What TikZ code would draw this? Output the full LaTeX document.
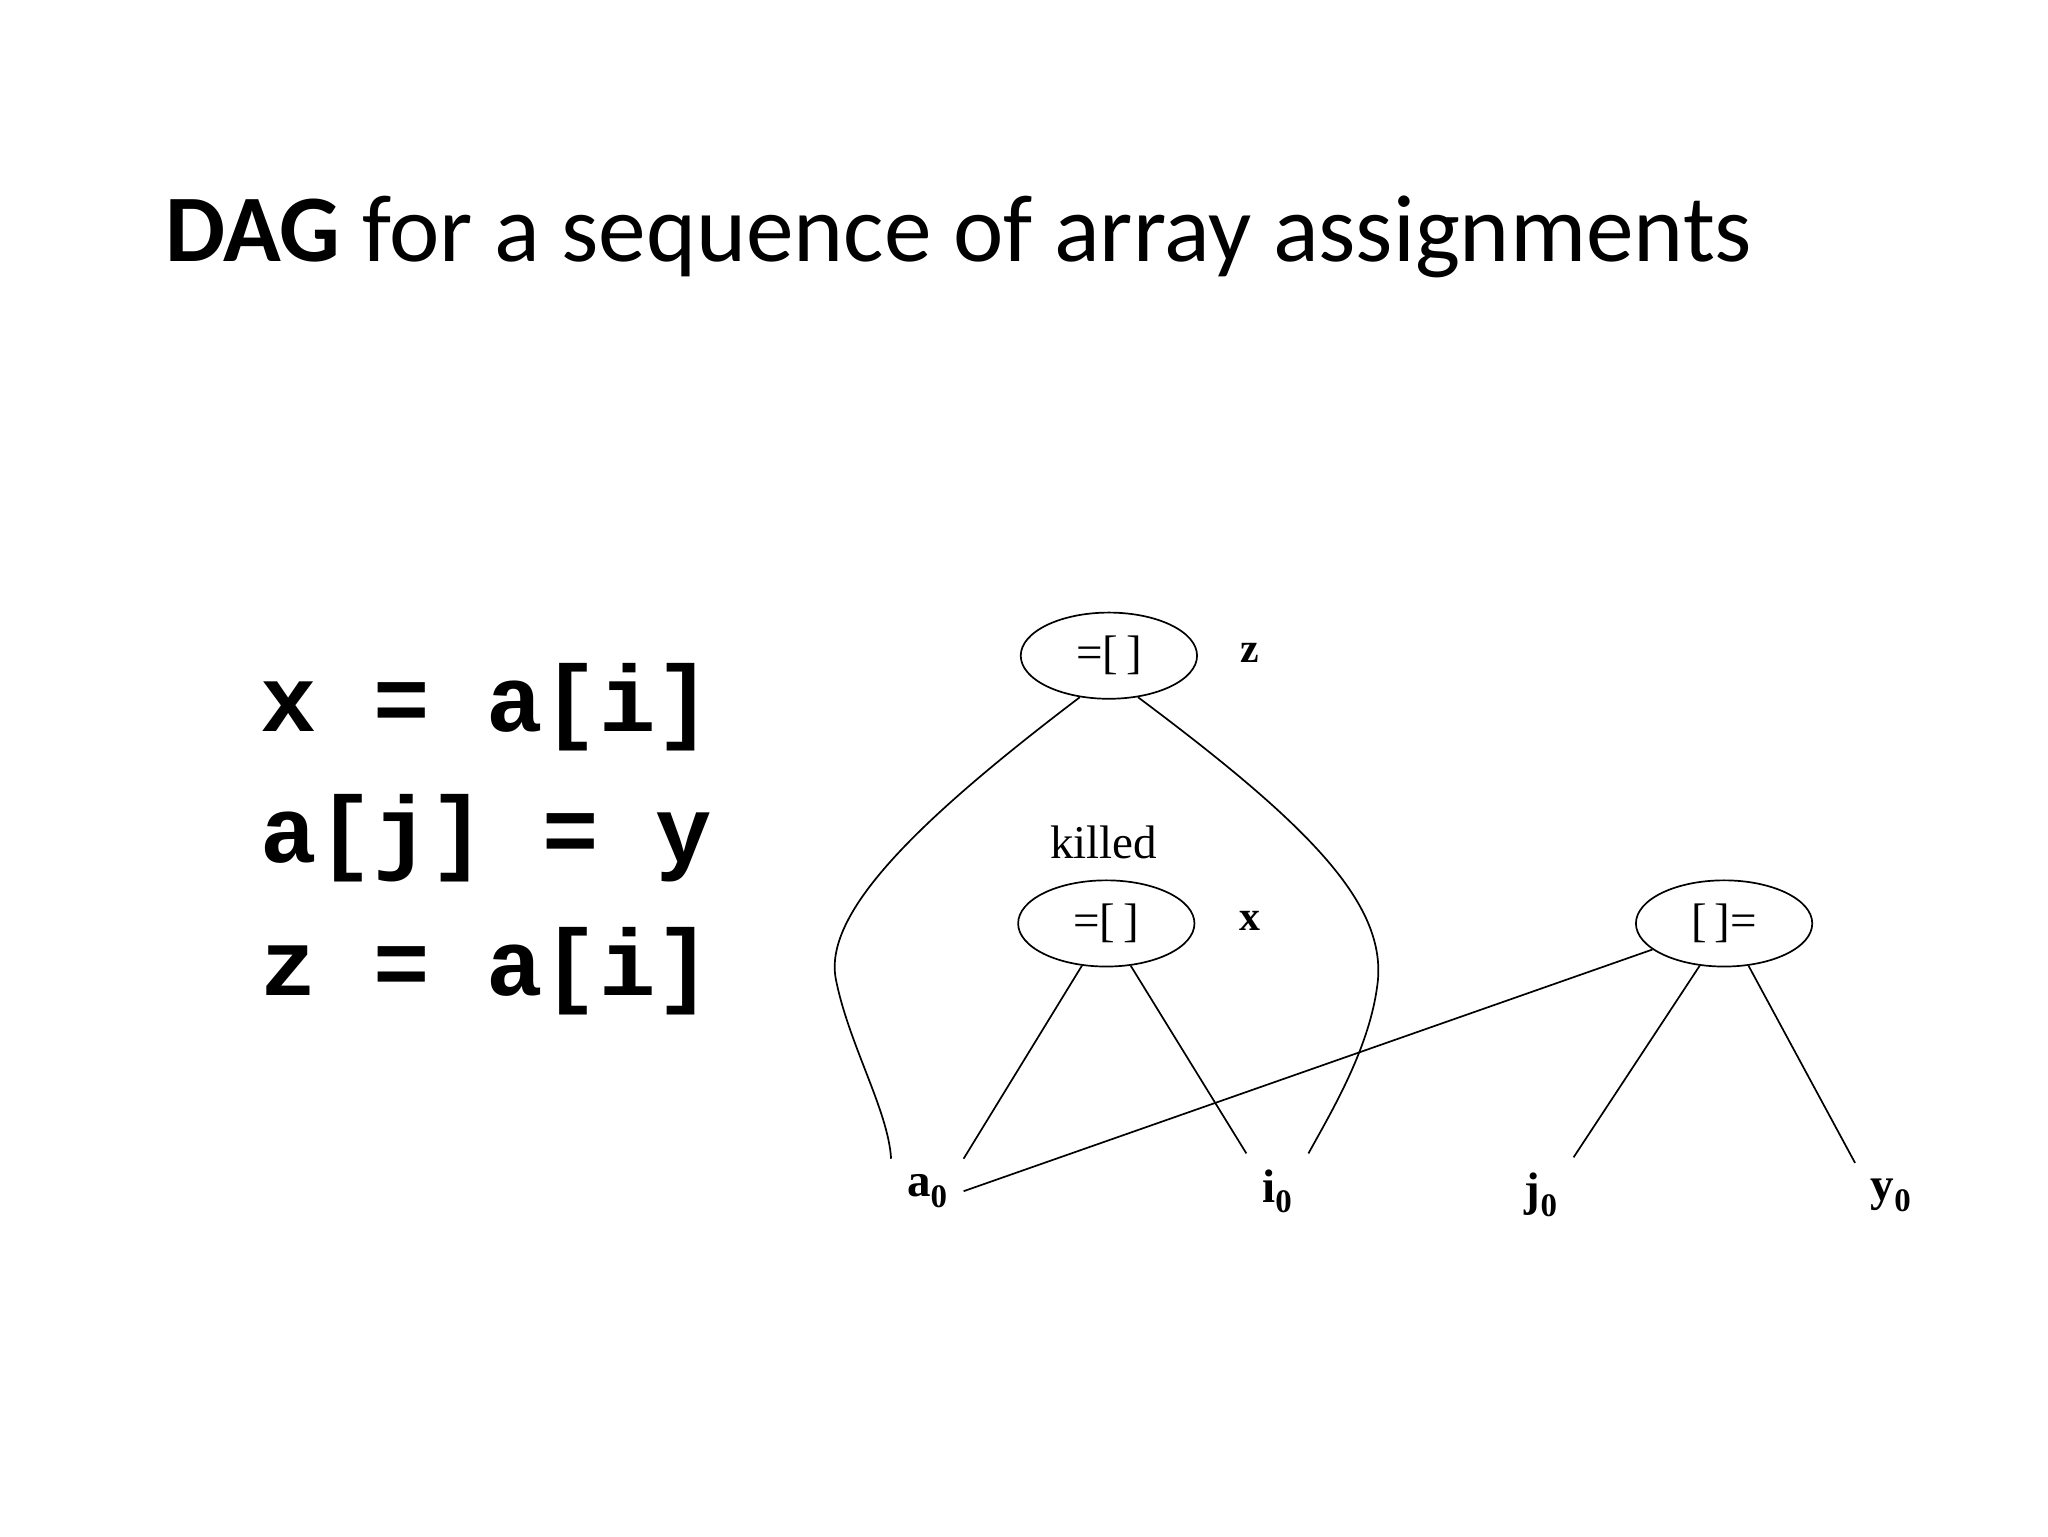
\documentclass[tikz,border=0pt]{standalone}
\usetikzlibrary{shapes.geometric}
\usepackage{fontspec}
\setmainfont{Liberation Serif}
\newfontfamily\titlefont{Carlito}
\newfontfamily\codefont{Liberation Mono}
\begin{document}
\begin{tikzpicture}[x=1pt,y=-1pt,
  op/.style={draw,line width=1.3pt,ellipse,minimum width=135pt,minimum height=66pt,inner sep=0pt,font=\fontsize{36}{40}\selectfont},
  leaf/.style={inner sep=12pt,font=\fontsize{36}{40}\selectfont\bfseries},
  lab/.style={font=\fontsize{32}{36}\selectfont\bfseries},
  e/.style={line width=1.3pt}]
\useasboundingbox (0,0) rectangle (1568,1176);
\node[anchor=base west,font=\titlefont\fontsize{73}{86}\selectfont] (title) at (123,200) {\textbf{DAG} for a sequence of array assignments};
\node[anchor=base west,font=\codefont\bfseries\fontsize{72}{86}\selectfont] (code) at (196,560) {x = a[i]};
\node[anchor=base west,font=\codefont\bfseries\fontsize{72}{86}\selectfont] (code2) at (196,660) {a[j] = y};
\node[anchor=base west,font=\codefont\bfseries\fontsize{72}{86}\selectfont] (code3) at (196,762) {z = a[i]};
\node[op] (top) at (849,502) {=[\,]};
\node[op] (mid) at (847,707) {=[\,]};
\node[op] (st) at (1320,707) {[\,]=};
\node[lab] (z) at (957,500) {z};
\node[lab] (x) at (957,705) {x};
\node[font=\fontsize{36}{40}\selectfont] (k) at (845,645) {killed};
\node[leaf] (a0) at (710,912) {a$_{\mathbf{0}}$};
\node[leaf] (i0) at (978,912) {i$_{\mathbf{0}}$};
\node[leaf] (j0) at (1180,915) {j$_{\mathbf{0}}$};
\node[leaf] (y0) at (1448,915) {y$_{\mathbf{0}}$};
\draw[e] (top.235) .. controls (700,630) and (630,700) .. (640,750) .. controls (650,800) and (680,850) .. (a0.north west);
\draw[e] (top.305) .. controls (1000,630) and (1060,690) .. (1055,750) .. controls (1050,800) and (1020,850) .. (i0.north east);
\draw[e] (mid.240) -- (a0.north east);
\draw[e] (mid.300) -- (i0.north west);
\draw[e] (st.200) -- (a0.east);
\draw[e] (st.240) -- (j0.north east);
\draw[e] (st.300) -- (y0.north west);
\end{tikzpicture}
\end{document}
